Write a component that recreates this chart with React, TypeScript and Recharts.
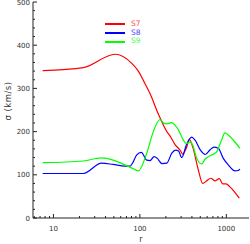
import React from 'react';
import { LineChart, Line, XAxis, YAxis, Legend } from 'recharts';

const s7R = [7.5, 22.2, 51.7, 80.5, 96, 110, 131, 164, 205, 223, 255, 292, 313, 348, 374, 409, 475, 533, 593, 660, 740, 830, 908, 991, 1104, 1262, 1413];
const s7V = [341, 348, 379, 358, 340, 318, 288, 240, 200, 190, 170, 157, 148, 164, 182, 164, 111, 80, 86, 92, 86, 91, 79, 79, 72, 59, 46];

const s8R = [7.5, 22.2, 36, 49, 67, 77, 81, 92, 104, 120, 131, 146, 159, 180, 205, 234, 260, 280, 305, 348, 398, 435, 506, 570, 650, 720, 810, 923, 1054, 1262, 1377, 1439];
const s8V = [103, 103, 127, 124, 120, 120, 125, 146, 152, 134, 133, 142, 138, 126, 127, 150, 157, 155, 140, 171, 187, 180, 156, 147, 158, 164, 161, 138, 123, 109, 110, 113];

const s9R = [7.5, 22.2, 36, 49, 67, 80, 96, 120, 143, 171, 190, 205, 234, 255, 279, 313, 345, 380, 410, 447, 520, 567, 678, 774, 885, 966, 1054, 1206, 1439];
const s9V = [128, 132, 139, 134, 123, 116, 109, 150, 200, 228, 219, 218, 221, 215, 204, 183, 172, 176, 168, 142, 125, 136, 146, 153, 182, 197, 192, 180, 161];

const seriesNames = ['S7', 'S8', 'S9'];
const seriesColors = ['#ff0000', '#0000ff', '#00ff00'];

const xMajor = [10, 100, 1000];
const xMinor = [6, 7, 8, 9, 20, 30, 40, 50, 60, 70, 80, 90, 200, 300, 400, 500, 600, 700, 800, 900];
const yMajor = [0, 100, 200, 300, 400, 500];
const yMinor = [20, 40, 60, 80, 120, 140, 160, 180, 220, 240, 260, 280, 320, 340, 360, 380, 420, 440, 460, 480];

const xDomain = [5.8, 1830];
const yDomain = [0, 500];

const toPts = (rs: number[], vs: number[]) => rs.map((r, i) => ({ r, v: vs[i] }));
const s7 = toPts(s7R, s7V);
const s8 = toPts(s8R, s8V);
const s9 = toPts(s9R, s9V);

const FONT = '"DejaVu Sans", sans-serif';
const AX = '#222';
const xTicks = [...xMajor, ...xMinor].sort((a, b) => a - b);
const yTicks = [...yMajor, ...yMinor].sort((a, b) => a - b);

const BottomTick = (p: any) => {
  const major = xMajor.includes(p.payload.value);
  return (
    <g>
      <line x1={p.x} x2={p.x} y1={p.y} y2={p.y - (major ? 4 : 2)} stroke={AX} strokeWidth={1} />
      {major && (
        <text x={p.x} y={p.y + 13} textAnchor="middle" fontSize={7} fontFamily={FONT} fill="#333">
          {p.payload.value}
        </text>
      )}
    </g>
  );
};
const TopTick = (p: any) => {
  const major = xMajor.includes(p.payload.value);
  return <line x1={p.x} x2={p.x} y1={p.y} y2={p.y + (major ? 4 : 2)} stroke={AX} strokeWidth={1} />;
};
const LeftTick = (p: any) => {
  const major = yMajor.includes(p.payload.value);
  return (
    <g>
      <line x1={p.x} x2={p.x + (major ? 4 : 2)} y1={p.y} y2={p.y} stroke={AX} strokeWidth={1} />
      {major && (
        <text x={p.x - 3} y={p.y} dy="0.36em" textAnchor="end" fontSize={7} fontFamily={FONT} fill="#333">
          {p.payload.value}
        </text>
      )}
    </g>
  );
};
const RightTick = (p: any) => {
  const major = yMajor.includes(p.payload.value);
  return <line x1={p.x} x2={p.x - (major ? 4 : 2)} y1={p.y} y2={p.y} stroke={AX} strokeWidth={1} />;
};

const YLabel = (props: any) => {
  const vb = props.viewBox;
  const x = vb.x + 8;
  const y = vb.y + vb.height / 2 - 9;
  return (
    <text x={x} y={y} transform={`rotate(-90 ${x} ${y})`} textAnchor="middle" dy="0.35em" fontSize={8.5} letterSpacing={0.5} fontFamily={FONT} fill="#333">
      σ (km/s)
    </text>
  );
};
const XLabel = (props: any) => {
  const vb = props.viewBox;
  return (
    <text x={vb.x + vb.width / 2} y={vb.y + 24} textAnchor="middle" fontSize={8} fontFamily={FONT} fill="#333">
      r
    </text>
  );
};

const LegendContent = (props: any) => {
  const payload = props.payload || [];
  return (
    <div style={{ fontFamily: FONT, fontSize: 7.5 }}>
      {payload.map((p: any) => (
        <div key={p.value} style={{ display: 'flex', alignItems: 'center', height: 8.7 }}>
          <svg width={20} height={4} style={{ display: 'block' }}>
            <line x1={0} x2={20} y1={2} y2={2} stroke={p.color} strokeWidth={2} />
          </svg>
          <span style={{ color: p.color, marginLeft: 6, opacity: 0.75, lineHeight: '8.7px' }}>{p.value}</span>
        </div>
      ))}
    </div>
  );
};

export default function App() {
  return (
    <div style={{ position: 'absolute', left: 0, top: 0, width: 250, height: 244, background: '#fff' }}>
      <LineChart width={250} height={244} margin={{ top: 2, right: 1, left: 0, bottom: 0 }}>
        <XAxis
          xAxisId="main"
          dataKey="r"
          type="number"
          scale="log"
          domain={xDomain}
          allowDataOverflow
          ticks={xTicks}
          interval={0}
          height={26}
          tickSize={0}
          tickMargin={0}
          tickLine={false}
          axisLine={{ stroke: AX }}
          tick={(p: any) => <BottomTick {...p} />}
          label={(p: any) => <XLabel {...p} />}
        />
        <XAxis
          xAxisId="top"
          orientation="top"
          mirror
          dataKey="r"
          type="number"
          scale="log"
          domain={xDomain}
          allowDataOverflow
          ticks={xTicks}
          interval={0}
          height={0}
          tickSize={0}
          tickMargin={0}
          tickLine={false}
          axisLine={{ stroke: AX }}
          tick={(p: any) => <TopTick {...p} />}
        />
        <YAxis
          yAxisId="main"
          type="number"
          domain={yDomain}
          allowDataOverflow
          ticks={yTicks}
          interval={0}
          width={33}
          tickSize={0}
          tickMargin={0}
          tickLine={false}
          axisLine={{ stroke: AX }}
          tick={(p: any) => <LeftTick {...p} />}
          label={(p: any) => <YLabel {...p} />}
        />
        <YAxis
          yAxisId="right"
          orientation="right"
          mirror
          type="number"
          domain={yDomain}
          allowDataOverflow
          ticks={yTicks}
          interval={0}
          width={0}
          tickSize={0}
          tickMargin={0}
          tickLine={false}
          axisLine={{ stroke: AX }}
          tick={(p: any) => <RightTick {...p} />}
        />
        <Legend
          layout="vertical"
          align="center"
          verticalAlign="middle"
          wrapperStyle={{ left: 105, top: 20, width: 60, height: 28 }}
          content={(p: any) => <LegendContent {...p} />}
        />
        <Line xAxisId="main" yAxisId="main" data={s7} dataKey="v" name={seriesNames[0]} type="monotone" stroke={seriesColors[0]} strokeWidth={1.2} dot={false} isAnimationActive={false} />
        <Line xAxisId="main" yAxisId="main" data={s8} dataKey="v" name={seriesNames[1]} type="monotone" stroke={seriesColors[1]} strokeWidth={1.2} dot={false} isAnimationActive={false} />
        <Line xAxisId="main" yAxisId="main" data={s9} dataKey="v" name={seriesNames[2]} type="monotone" stroke={seriesColors[2]} strokeWidth={1.2} dot={false} isAnimationActive={false} />
      </LineChart>
    </div>
  );
}
